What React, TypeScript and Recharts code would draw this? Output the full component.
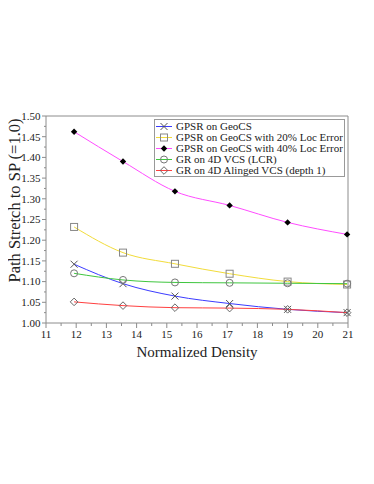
import { LineChart, Line, XAxis, YAxis, ReferenceLine, Legend, Label } from 'recharts';

const density = [11.93, 13.55, 15.27, 17.08, 19.0, 20.97];
const gpsr = [1.142, 1.095, 1.065, 1.047, 1.033, 1.025];
const gpsr20 = [1.232, 1.17, 1.143, 1.119, 1.1, 1.093];
const gpsr40 = [1.462, 1.39, 1.318, 1.284, 1.243, 1.214];
const gr4d = [1.12, 1.104, 1.098, 1.097, 1.096, 1.095];
const grAligned = [1.051, 1.042, 1.037, 1.036, 1.033, 1.025];

const xMajor = [11, 12, 13, 14, 15, 16, 17, 18, 19, 20, 21];
const xMinor = [11.5, 12.5, 13.5, 14.5, 15.5, 16.5, 17.5, 18.5, 19.5, 20.5];
const yMajor = [1.0, 1.05, 1.1, 1.15, 1.2, 1.25, 1.3, 1.35, 1.4, 1.45, 1.5];
const yMinor = [1.025, 1.075, 1.125, 1.175, 1.225, 1.275, 1.325, 1.375, 1.425, 1.475];

const series = [
  { key: 'gpsr', name: 'GPSR on GeoCS', color: '#3b3bff', marker: 'x' },
  { key: 'gpsr20', name: 'GPSR on GeoCS with 20% Loc Error', color: '#f2dc3a', marker: 'square' },
  { key: 'gpsr40', name: 'GPSR on GeoCS with 40% Loc Error', color: '#ff4cff', marker: 'filledDiamond' },
  { key: 'gr4d', name: 'GR on 4D VCS (LCR)', color: '#3fc63f', marker: 'circle' },
  { key: 'grAligned', name: 'GR on 4D Alinged VCS (depth 1)', color: '#ff4040', marker: 'diamond' },
];

const data = density.map((d, i) => ({
  density: d,
  gpsr: gpsr[i],
  gpsr20: gpsr20[i],
  gpsr40: gpsr40[i],
  gr4d: gr4d[i],
  grAligned: grAligned[i],
}));

const FONT = '"Liberation Serif", "DejaVu Serif", serif';
const AXIS = '#8c8c8c';
const TEXT = '#222';

function Marker({ type, cx, cy }: { type: string; cx: number; cy: number }) {
  const r = 3.5;
  if (type === 'x') {
    return (
      <path
        d={`M${cx - r},${cy - r}L${cx + r},${cy + r}M${cx - r},${cy + r}L${cx + r},${cy - r}`}
        stroke="#555"
        strokeWidth={1}
        fill="none"
      />
    );
  }
  if (type === 'square') {
    return <rect x={cx - r} y={cy - r} width={2 * r} height={2 * r} stroke="#888" fill="none" strokeWidth={1} />;
  }
  if (type === 'circle') {
    return <circle cx={cx} cy={cy} r={r} stroke="#777" fill="none" strokeWidth={1} />;
  }
  if (type === 'filledDiamond') {
    const q = 3.2;
    return <path d={`M${cx},${cy - q}L${cx + q},${cy}L${cx},${cy + q}L${cx - q},${cy}Z`} fill="#000" />;
  }
  const q = 3.8;
  return (
    <path d={`M${cx},${cy - q}L${cx + q},${cy}L${cx},${cy + q}L${cx - q},${cy}Z`} fill="none" stroke="#666" strokeWidth={1} />
  );
}

function XTick(props: any) {
  const { x, y, payload } = props;
  const major = xMajor.includes(payload.value);
  return (
    <g>
      <line x1={x} y1={y} x2={x} y2={y + (major ? 5 : 3)} stroke={AXIS} />
      {major && (
        <text x={x} y={y + 14.5} textAnchor="middle" fontFamily={FONT} style={{ fontSize: 11, fontFamily: FONT, fill: TEXT }}>
          {payload.value}
        </text>
      )}
    </g>
  );
}

function YTick(props: any) {
  const { x, y, payload } = props;
  const major = yMajor.some((v) => Math.abs(v - payload.value) < 1e-6);
  return (
    <g>
      <line x1={x} y1={y} x2={x - (major ? 4 : 2)} y2={y} stroke={AXIS} />
      {major && (
        <text x={x - 5.5} y={y + 3.8} textAnchor="end" fontFamily={FONT} style={{ fontSize: 11, fontFamily: FONT, fill: TEXT }}>
          {payload.value.toFixed(2)}
        </text>
      )}
    </g>
  );
}

function LegendBox() {
  return (
    <div
      style={{
        border: '1px solid #999',
        background: '#fff',
        width: 191,
        height: 58,
        boxSizing: 'border-box',
        fontFamily: FONT,
        fontSize: 11,
        color: TEXT,
        paddingTop: 0.5,
      }}
    >
      {series.map((s) => (
        <div key={s.key} style={{ display: 'flex', alignItems: 'center', height: 11.2, whiteSpace: 'nowrap' }}>
          <svg width={21} height={11} style={{ flex: 'none' }}>
            <line x1={1} y1={5.5} x2={17} y2={5.5} stroke={s.color} />
            <Marker type={s.marker} cx={9} cy={5.5} />
          </svg>
          <span style={{ lineHeight: '11px' }}>{s.name}</span>
        </div>
      ))}
    </div>
  );
}

export default function App() {
  return (
    <div style={{ width: 374, height: 484, margin: -8, fontFamily: FONT }}>
      <LineChart
        width={374}
        height={484}
        data={data}
        margin={{ top: 116, right: 26, left: 0, bottom: 121 }}
        style={{ fontFamily: FONT }}
      >
        <XAxis
          dataKey="density"
          type="number"
          domain={[11, 21]}
          ticks={[...xMajor, ...xMinor]}
          interval={0}
          tick={<XTick />}
          tickSize={0}
          tickMargin={0}
          tickLine={false}
          axisLine={{ stroke: AXIS }}
          height={40}
        >
          <Label
            content={() => (
              <text
                x={197}
                y={356.5}
                textAnchor="middle"
                fontFamily={FONT}
                style={{ fontSize: 15, fontFamily: FONT, fill: TEXT }}
              >
                Normalized Density
              </text>
            )}
          />
        </XAxis>
        <YAxis
          type="number"
          domain={[1, 1.5]}
          ticks={[...yMajor, ...yMinor]}
          interval={0}
          tick={<YTick />}
          tickSize={0}
          tickMargin={0}
          tickLine={false}
          axisLine={{ stroke: AXIS }}
          width={46}
        >
          <Label
            content={() => (
              <text
                transform="translate(20, 200.5) rotate(-90)"
                textAnchor="middle"
                fontFamily={FONT}
                style={{ fontSize: 16.5, fontFamily: FONT, fill: TEXT }}
              >
                Path Stretch to SP (=1.0)
              </text>
            )}
          />
        </YAxis>
        <ReferenceLine y={1.5} stroke={AXIS} />
        <ReferenceLine x={21} stroke={AXIS} />
        {series.map((s) => (
          <Line
            key={s.key}
            type="monotone"
            dataKey={s.key}
            name={s.name}
            stroke={s.color}
            strokeWidth={1}
            isAnimationActive={false}
            dot={(p: any) => <Marker key={`${s.key}-${p.index}`} type={s.marker} cx={p.cx} cy={p.cy} />}
            activeDot={false}
          />
        ))}
        <Legend
          layout="vertical"
          align="center"
          verticalAlign="middle"
          wrapperStyle={{ left: 154, top: 119, width: 191, height: 58 }}
          content={() => <LegendBox />}
        />
      </LineChart>
    </div>
  );
}
